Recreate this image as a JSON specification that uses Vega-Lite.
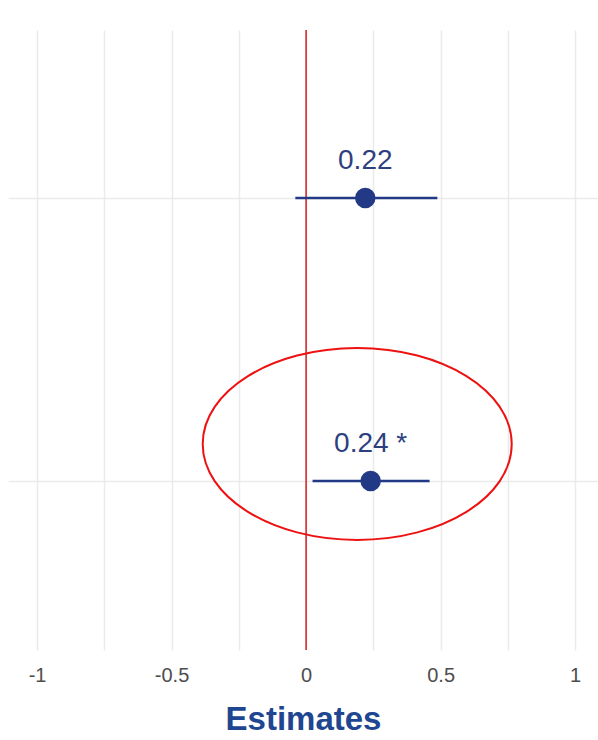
{
  "$schema": "https://vega.github.io/schema/vega-lite/v6.json",
  "autosize": "none",
  "width": 590,
  "height": 620,
  "padding": {"left": 8, "top": 30, "right": 0, "bottom": 90},
  "background": "white",
  "config": {"view": {"stroke": null}, "font": "Liberation Sans"},
  "datasets": {
    "est": [
      {"row": 2, "estimate": 0.22, "low": -0.04, "high": 0.488, "label": "0.22"},
      {"row": 1, "estimate": 0.24, "low": 0.024, "high": 0.459, "label": "0.24 *"}
    ],
    "ref": [{"x": 0}],
    "ring": [{"x": 0.19, "y": 1.131}]
  },
  "layer": [
    {
      "data": {"name": "ref"},
      "mark": {"type": "rule", "color": "#cc1f1f", "strokeWidth": 1.5},
      "encoding": {
        "x": {
          "field": "x", "type": "quantitative",
          "scale": {"domain": [-1.108, 1.085], "nice": false, "zero": false},
          "axis": {
            "title": "Estimates",
            "values": [-1, -0.75, -0.5, -0.25, 0, 0.25, 0.5, 0.75, 1],
            "labelExpr": "abs(datum.value) == 0.25 || abs(datum.value) == 0.75 ? '' : (datum.value < 0 ? '-' : '') + format(abs(datum.value), '~g')",
            "grid": true, "gridColor": "#ebebeb", "gridWidth": 1.5,
            "domain": false, "ticks": false,
            "labelFontSize": 20, "labelColor": "#4d4d4d", "labelPadding": 15,
            "labelFont": "Liberation Sans",
            "titleFontSize": 33, "titleFontWeight": "bold", "titleColor": "#1f4690",
            "titleFont": "Liberation Sans", "titlePadding": 18
          }
        }
      }
    },
    {
      "data": {"name": "est"},
      "mark": {"type": "rule", "color": "#223a85", "strokeWidth": 2.5},
      "encoding": {
        "x": {"field": "low", "type": "quantitative"},
        "x2": {"field": "high"},
        "y": {
          "field": "row", "type": "quantitative",
          "scale": {"domain": [0.403, 2.594], "nice": false, "zero": false},
          "axis": {
            "title": null, "values": [1, 2], "labels": false, "ticks": false,
            "domain": false, "grid": true, "gridColor": "#ebebeb", "gridWidth": 1.5
          }
        }
      }
    },
    {
      "data": {"name": "est"},
      "mark": {"type": "point", "filled": true, "shape": "circle", "size": 420, "color": "#223a85", "opacity": 1},
      "encoding": {
        "x": {"field": "estimate", "type": "quantitative"},
        "y": {"field": "row", "type": "quantitative"}
      }
    },
    {
      "data": {"name": "est"},
      "mark": {"type": "text", "fontSize": 28, "color": "#2e3f80", "baseline": "alphabetic", "dy": -29, "font": "Liberation Sans"},
      "encoding": {
        "x": {"field": "estimate", "type": "quantitative"},
        "y": {"field": "row", "type": "quantitative"},
        "text": {"field": "label"}
      }
    },
    {
      "data": {"name": "ring"},
      "mark": {
        "type": "point", "filled": false, "stroke": "#ee1111", "strokeWidth": 2, "opacity": 1,
        "size": 95481,
        "shape": "M 1 0 C 1 0.343 0.5523 0.621 0 0.621 C -0.5523 0.621 -1 0.343 -1 0 C -1 -0.343 -0.5523 -0.621 0 -0.621 C 0.5523 -0.621 1 -0.343 1 0 Z"
      },
      "encoding": {
        "x": {"field": "x", "type": "quantitative"},
        "y": {"field": "y", "type": "quantitative"}
      }
    }
  ]
}
